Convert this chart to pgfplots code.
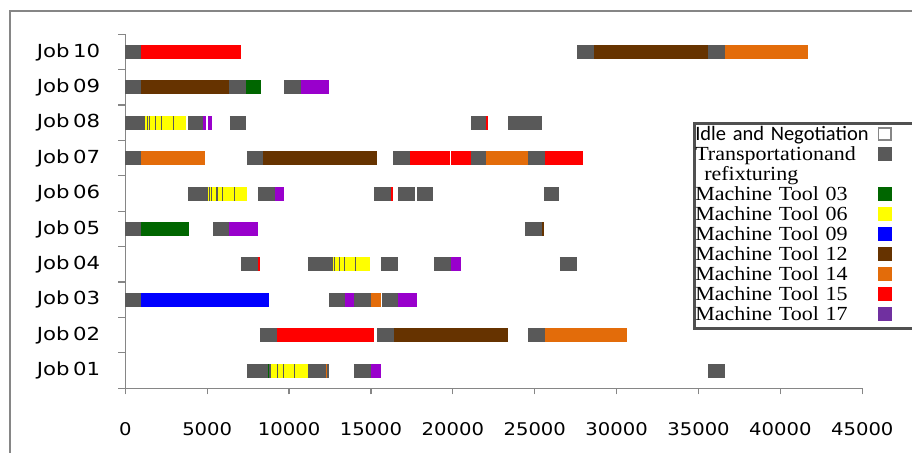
\documentclass[border=0pt]{standalone}
\usepackage{pgfplots}
\pgfplotsset{compat=1.18}
\usepackage{fontspec}
\setmainfont{DejaVu Sans}
\newfontfamily\jobfont[FakeStretch=1.12]{DejaVu Sans}
\newfontfamily\ylabfont[FakeStretch=1.18]{DejaVu Sans}
\newfontfamily\legfont[FakeStretch=1.1]{Liberation Serif}
\newfontfamily\idlefont{Carlito}

\definecolor{trgray}{RGB}{89,89,89}
\definecolor{mt03}{RGB}{0,102,0}
\definecolor{mt06}{RGB}{255,255,0}
\definecolor{mt09}{RGB}{0,0,255}
\definecolor{mt12}{RGB}{102,51,0}
\definecolor{mt14}{RGB}{227,108,10}
\definecolor{mt15}{RGB}{255,0,0}
\definecolor{mt17}{RGB}{153,0,204}
\definecolor{mt17leg}{RGB}{112,48,160}
\definecolor{axgray}{RGB}{134,134,134}
\definecolor{leggray}{RGB}{80,80,80}

% one segment style: thick butt-capped line, square legend key
\pgfplotsset{
  seg/.style={line width=14pt, color=#1,
    legend image code/.code={\fill[#1, draw=none] (0pt,-4.5pt) rectangle (14pt,9pt); \path (31pt,0pt);}},
}
\newcommand{\job}[1]{Job\kern3.5pt #1}

\begin{document}
\begin{tikzpicture}
\useasboundingbox (0pt,0pt) rectangle (912pt,452pt);
\draw[axgray, line width=2pt] (10pt,-20pt) rectangle (940pt,441pt);
\begin{axis}[
  at={(125.3pt,63.7pt)}, anchor=south west,
  scale only axis, width=737pt, height=354pt,
  xmin=0, xmax=45000, ymin=0.5, ymax=10.5,
  axis lines*=left,
  axis line style={draw=axgray, line width=1.2pt, -},
  tick align=outside,
  major tick length=6pt,
  tick style={draw=axgray, line width=1.2pt},
  xtick={0,5000,...,45000},
  scaled ticks=false,
  /pgf/number format/set thousands separator={},
  /pgf/number format/assume math mode=true,
  xticklabel style={font=\jobfont\fontsize{17.5}{18}\selectfont, inner sep=0pt, yshift=-28pt},
  ytick={1,...,10},
  yticklabels={\job{01},\job{02},\job{03},\job{04},\job{05},\job{06},\job{07},\job{08},\job{09},\job{10}},
  yticklabel style={font=\ylabfont\fontsize{18}{18}\selectfont, inner sep=0pt, xshift=-19pt},
  ytick style={draw=none},
  extra y ticks={0.5,1.5,...,10.5},
  extra y tick labels={},
  extra y tick style={major tick length=7pt, every y tick/.append style={draw=axgray}},
  unbounded coords=jump,
  clip=false,
  legend plot pos=right,
  legend cell align=left,
  legend style={at={(0.7703,0.7514)}, anchor=north west,
    draw=leggray, line width=2.5pt, inner xsep=1pt, inner ysep=2.5pt,
    row sep=0pt, column sep=6.7pt,
    font=\legfont\fontsize{20}{20}\selectfont,
    nodes={inner sep=0pt, text height=14.5pt, text depth=5.5pt, text width=176pt, align=left}},
]
\addlegendimage{legend image code/.code={\draw[axgray, fill=white, line width=1.5pt] (0.75pt,-3.75pt) rectangle (13.25pt,8.25pt); \path (31pt,0pt);}}
\addlegendentry{\idlefont\fontsize{20.5}{20}\selectfont Idle and Negotiation}

% transportation and refixturing
\addplot[seg=trgray] coordinates {
  (0,10) (950,10) (nan,nan) (27580,10) (28620,10) (nan,nan) (35580,10) (36610,10) (nan,nan)
  (0,9) (950,9) (nan,nan) (6330,9) (7370,9) (nan,nan) (9690,9) (10730,9) (nan,nan)
  (0,8) (1200,8) (nan,nan) (3830,8) (4740,8) (nan,nan) (6390,8) (7370,8) (nan,nan)
  (21110,8) (22030,8) (nan,nan) (23370,8) (25440,8) (nan,nan)
  (0,7) (950,7) (nan,nan) (7430,7) (8410,7) (nan,nan) (16350,7) (17380,7) (nan,nan)
  (21110,7) (22030,7) (nan,nan) (24590,7) (25630,7) (nan,nan)
  (3830,6) (5050,6) (nan,nan) (8100,6) (9140,6) (nan,nan) (15190,6) (16230,6) (nan,nan)
  (16660,6) (17690,6) (nan,nan) (17810,6) (18790,6) (nan,nan) (25570,6) (26480,6) (nan,nan)
  (0,5) (950,5) (nan,nan) (5360,5) (6330,5) (nan,nan) (24400,5) (25440,5) (nan,nan)
  (7060,4) (8100,4) (nan,nan) (11150,4) (12620,4) (nan,nan) (15610,4) (16660,4) (nan,nan)
  (18850,4) (19890,4) (nan,nan) (26540,4) (27580,4) (nan,nan)
  (0,3) (950,3) (nan,nan) (12440,3) (13420,3) (nan,nan) (13960,3) (15000,3) (nan,nan)
  (15670,3) (16660,3) (nan,nan)
  (8220,2) (9260,2) (nan,nan) (15370,2) (16410,2) (nan,nan) (24590,2) (25630,2) (nan,nan)
  (7430,1) (8710,1) (nan,nan) (8770,1) (8900,1) (nan,nan) (11150,1) (12250,1) (nan,nan)
  (12310,1) (12440,1) (nan,nan) (13960,1) (15000,1) (nan,nan) (35580,1) (36610,1)
};
\addlegendentry{Transportationand}
\addlegendimage{empty legend}
\addlegendentry{\hspace*{9pt}refixturing}

\addplot[seg=mt03] coordinates {
  (7370,9) (8270,9) (nan,nan) (950,5) (3890,5) (nan,nan) (8710,1) (8770,1)
};
\addlegendentry{Machine Tool 03}

\addplot[seg=mt06] coordinates {
  (1200,8) (3690,8) (nan,nan) (5050,6) (7430,6) (nan,nan)
  (12620,4) (14940,4) (nan,nan) (8900,1) (11150,1)
};
\addlegendentry{Machine Tool 06}

% thin dark marks inside the yellow bars
\addplot[seg=trgray, forget plot] coordinates {
  (1330,8) (1400,8) (nan,nan) (1470,8) (1530,8) (nan,nan) (1830,8) (1890,8) (nan,nan)
  (2200,8) (2260,8) (nan,nan) (2890,8) (2950,8) (nan,nan)
  (5090,6) (5160,6) (nan,nan) (5250,6) (5320,6) (nan,nan) (5560,6) (5630,6) (nan,nan)
  (5900,6) (5970,6) (nan,nan) (6640,6) (6710,6) (nan,nan)
  (12640,4) (12680,4) (nan,nan) (12720,4) (12780,4) (nan,nan) (13050,4) (13120,4) (nan,nan)
  (13370,4) (13430,4) (nan,nan) (14040,4) (14100,4) (nan,nan)
  (9260,1) (9330,1) (nan,nan) (9630,1) (9700,1) (nan,nan) (10300,1) (10370,1)
};

\addplot[seg=mt09] coordinates {
  (950,3) (8770,3)
};
\addlegendentry{Machine Tool 09}

\addplot[seg=mt12] coordinates {
  (28620,10) (35580,10) (nan,nan) (950,9) (6330,9) (nan,nan) (8410,7) (15370,7) (nan,nan)
  (25440,5) (25570,5) (nan,nan) (16410,2) (23370,2)
};
\addlegendentry{Machine Tool 12}

\addplot[seg=mt14] coordinates {
  (36610,10) (41680,10) (nan,nan) (950,7) (4870,7) (nan,nan) (22030,7) (24590,7) (nan,nan)
  (15000,3) (15610,3) (nan,nan) (25630,2) (30630,2) (nan,nan) (12250,1) (12310,1)
};
\addlegendentry{Machine Tool 14}

\addplot[seg=mt15] coordinates {
  (950,10) (7050,10) (nan,nan) (22030,8) (22120,8) (nan,nan)
  (17380,7) (19830,7) (nan,nan) (19890,7) (21110,7) (nan,nan) (25630,7) (27950,7) (nan,nan)
  (16230,6) (16350,6) (nan,nan) (8100,4) (8220,4) (nan,nan) (9260,2) (15190,2)
};
\addlegendentry{Machine Tool 15}

\addplot[seg=mt17, legend image code/.code={\fill[mt17leg, draw=none] (0pt,-4.5pt) rectangle (14pt,9pt); \path (31pt,0pt);}] coordinates {
  (10730,9) (12440,9) (nan,nan) (4740,8) (4950,8) (nan,nan) (5050,8) (5290,8) (nan,nan)
  (9140,6) (9690,6) (nan,nan) (6330,5) (8100,5) (nan,nan) (19890,4) (20500,4) (nan,nan)
  (13420,3) (13960,3) (nan,nan) (16660,3) (17810,3) (nan,nan) (15000,1) (15610,1)
};
\addlegendentry{Machine Tool 17}
\end{axis}
\end{tikzpicture}
\end{document}
